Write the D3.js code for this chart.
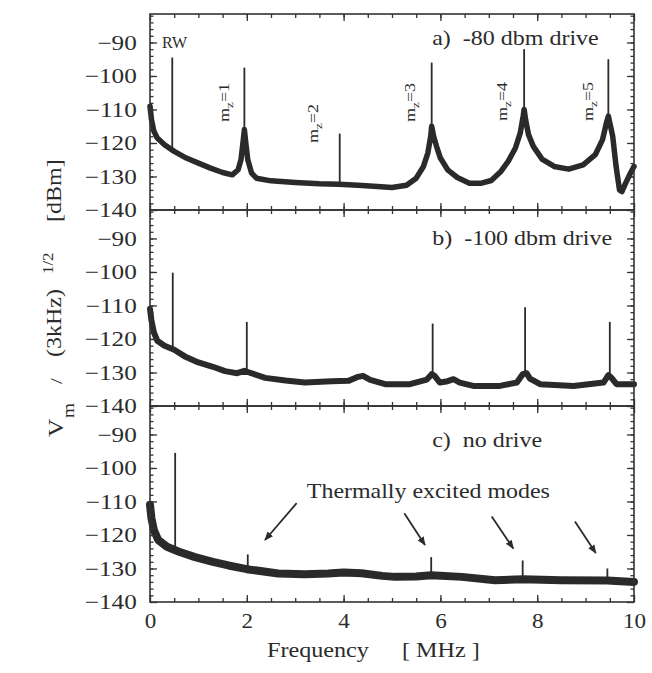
<!DOCTYPE html>
<html>
<head>
<meta charset="utf-8">
<script src="https://cdn.jsdelivr.net/npm/d3@7"></script>
<style>
  body { margin: 0; background: #fff; }
  svg text { font-family: "Liberation Serif", "Times New Roman", serif; fill: #2b2b2b; white-space: pre; }
</style>
</head>
<body>
<div id="wrapper"></div>
<script>
// values: [frequency MHz, level dBm]
const traceA = [
  [0, -109], [0.03, -113], [0.08, -116.5], [0.15, -118.5], [0.3, -120.5], [0.5, -122.5],
  [0.75, -124.5], [1.0, -126], [1.25, -127.5], [1.5, -128.8], [1.7, -129.5], [1.82, -128],
  [1.88, -125], [1.92, -120], [1.95, -116], [1.98, -120], [2.02, -125], [2.1, -129],
  [2.2, -130.5], [2.5, -131.3], [3.0, -131.8], [3.5, -132.2], [3.9, -132.3], [4.3, -132.6],
  [4.7, -133], [5.0, -133.3], [5.3, -132.6], [5.5, -130.5], [5.65, -127], [5.74, -123],
  [5.8, -118], [5.82, -115], [5.86, -118], [5.92, -121], [6.0, -124.5], [6.15, -128],
  [6.35, -130.3], [6.6, -132], [6.85, -132], [7.05, -131.2], [7.25, -128.5], [7.4, -125.5],
  [7.55, -121.5], [7.65, -117], [7.71, -112], [7.73, -110], [7.76, -113], [7.82, -117.5],
  [7.92, -121], [8.1, -124.8], [8.35, -127], [8.65, -127.8], [8.95, -126.5], [9.2, -123.5],
  [9.35, -119], [9.43, -114], [9.47, -112], [9.5, -114], [9.56, -118], [9.63, -127],
  [9.7, -134], [9.75, -134.5], [9.82, -132.2], [9.92, -129.2], [10, -127]
]
const traceB = [
  [0, -111], [0.03, -114.5], [0.08, -118], [0.15, -120.5], [0.3, -122], [0.5, -123.2],
  [0.72, -125.2], [1.0, -127], [1.3, -128.3], [1.55, -129.6], [1.8, -130.2], [1.95, -129.5],
  [2.05, -130], [2.38, -131.6], [2.8, -132.4], [3.2, -133], [3.75, -132.6], [4.1, -132.5],
  [4.3, -131.3], [4.4, -131], [4.55, -132.2], [4.86, -133.5], [5.37, -133.5], [5.72, -132.1],
  [5.82, -130.5], [5.88, -131], [5.99, -133], [6.15, -132.6], [6.27, -132], [6.4, -133],
  [6.68, -134], [7.23, -134], [7.58, -133], [7.7, -130.5], [7.78, -130.2], [7.85, -131.8],
  [8.06, -133.5], [8.75, -134], [9.37, -133], [9.47, -130.8], [9.53, -131.5], [9.64, -133.5],
  [10, -133.5]
]
const traceC = [
  [0, -111], [0.03, -115], [0.08, -118.5], [0.17, -121.5], [0.35, -123.5], [0.6, -125],
  [0.93, -126.6], [1.3, -128], [1.62, -129.1], [2.0, -130.2], [2.65, -131.5], [3.2, -131.7],
  [3.68, -131.5], [4.0, -131.2], [4.37, -131.4], [4.8, -132.2], [5.06, -132.5], [5.5, -132.4],
  [5.81, -132], [6.44, -132.5], [7.13, -133.5], [7.7, -133.2], [8.5, -133.5], [9.45, -133.6],
  [10, -134]
]

// narrow peaks: [frequency, base level, top level]
const spikesA = [[0.46, -122.8, -94.5], [1.95, -118, -97.5], [3.92, -132.3, -117.2],
  [5.82, -117, -96], [7.73, -112, -92], [9.47, -114, -95]]
const spikesB = [[0.47, -122.7, -100.2], [2.0, -129.6, -114.9], [5.84, -131, -115.4],
  [7.75, -130.2, -110.5], [9.5, -131, -114.9]]
const spikesC = [[0.52, -123.6, -95.5], [2.02, -130.2, -125.8], [5.81, -132, -126.6],
  [7.70, -133.2, -127.6], [9.45, -133.6, -130]]

const panelLabels = ["a)  -80 dbm drive", "b)  -100 dbm drive", "c)  no drive"]
const modeLabels = [1, 2, 3, 4, 5]
const modeLabelFreq = [1.63, 3.47, 5.475, 7.376, 9.153]
const modeLabelLevel = [-113.7, -120.0, -113.7, -113.4, -113.4]

// arrows in panel c: [tail f, tail dB, tip f, tip dB]
const arrowsC = [[3.03, -110.5, 2.376, -121.5], [5.254, -113.5, 5.682, -123.0],
  [7.06, -114.5, 7.506, -124.0], [8.78, -116.0, 9.21, -125.4]]

const xTickLabels = [0, 2, 4, 6, 8, 10]
const yTickLabels = [-140, -130, -120, -110, -100, -90]

drawSpectra()

function drawSpectra() {

  // 1. Chart dimensions
  const dimensions = {
    width: 652,
    height: 673,
    left: 150,
    right: 634,
    top: 14,
    panelHeight: 196,
  }
  const stretch = 1.2

  const wrapper = d3.select("#wrapper")
    .append("svg")
      .attr("width", dimensions.width)
      .attr("height", dimensions.height)

  wrapper.append("defs").append("marker")
      .attr("id", "head")
      .attr("viewBox", "0 0 10 10")
      .attr("refX", 9)
      .attr("refY", 5)
      .attr("markerWidth", 9)
      .attr("markerHeight", 9)
      .attr("markerUnits", "userSpaceOnUse")
      .attr("orient", "auto")
    .append("path")
      .attr("d", "M0,1 L10,5 L0,9 Z")
      .attr("fill", "#2b2b2b")

  // 2. Scales
  const xScale = d3.scaleLinear()
    .domain([0, 10])
    .range([dimensions.left, dimensions.right])

  const panels = [
    { trace: traceA, spikes: spikesA, band: 5.5 },
    { trace: traceB, spikes: spikesB, band: 6 },
    { trace: traceC, spikes: spikesC, band: 8 },
  ]

  const tickColor = "#333"

  panels.forEach((p, i) => {
    const top = dimensions.top + i * dimensions.panelHeight
    const bottom = top + dimensions.panelHeight
    const yScale = d3.scaleLinear()
      .domain([-140, -81.5])
      .range([bottom, top])
    p.yScale = yScale

    const bounds = wrapper.append("g")

    // 3. Data
    const lineGenerator = d3.line()
      .x(d => xScale(d[0]))
      .y(d => yScale(d[1]))

    bounds.append("path")
        .attr("d", lineGenerator(p.trace))
        .attr("fill", "none")
        .attr("stroke", "#2a2a2a")
        .attr("stroke-width", p.band)
        .attr("stroke-linejoin", "round")
        .attr("stroke-linecap", "round")

    bounds.selectAll(".spike")
      .data(p.spikes)
      .enter().append("line")
        .attr("x1", d => xScale(d[0]))
        .attr("x2", d => xScale(d[0]))
        .attr("y1", d => yScale(d[1]))
        .attr("y2", d => yScale(d[2]))
        .attr("stroke", "#2a2a2a")
        .attr("stroke-width", 1.8)

    // 4. Axes (ticks inward on all four sides)
    const clean = g => {
      g.select(".domain").remove()
      g.selectAll(".tick line").attr("stroke", tickColor).attr("stroke-width", 1.3)
    }

    bounds.append("g")
        .attr("transform", `translate(${dimensions.left},0)`)
        .call(d3.axisLeft(yScale).tickValues(yTickLabels).tickSize(-7).tickPadding(11))
        .call(clean)
        .call(g => g.selectAll("text")
          .attr("transform", `scale(${stretch},1)`)
          .attr("fill", "#2b2b2b")
          .style("font-size", "21px")
          .style("font-family", "Liberation Serif"))

    bounds.append("g")
        .attr("transform", `translate(${dimensions.left},0)`)
        .call(d3.axisLeft(yScale).tickValues(d3.range(-138, -81, 2)).tickSize(-3.5).tickFormat(""))
        .call(clean)

    bounds.append("g")
        .attr("transform", `translate(${dimensions.right},0)`)
        .call(d3.axisRight(yScale).tickValues(yTickLabels).tickSize(-7).tickFormat(""))
        .call(clean)

    bounds.append("g")
        .attr("transform", `translate(${dimensions.right},0)`)
        .call(d3.axisRight(yScale).tickValues(d3.range(-138, -81, 2)).tickSize(-3.5).tickFormat(""))
        .call(clean)

    bounds.append("g")
        .attr("transform", `translate(0,${top})`)
        .call(d3.axisTop(xScale).tickValues(xTickLabels).tickSize(-7).tickFormat(""))
        .call(clean)

    bounds.append("g")
        .attr("transform", `translate(0,${top})`)
        .call(d3.axisTop(xScale).tickValues(d3.range(0.5, 10, 0.5)).tickSize(-4).tickFormat(""))
        .call(clean)

    const bottomAxis = d3.axisBottom(xScale).tickValues(xTickLabels).tickSize(-7).tickPadding(11)
    if (i < 2) bottomAxis.tickFormat("")
    bounds.append("g")
        .attr("transform", `translate(0,${bottom})`)
        .call(bottomAxis)
        .call(clean)
        .call(g => g.selectAll("text")
          .attr("transform", "scale(1.1,1)")
          .attr("fill", "#2b2b2b")
          .style("font-size", "21px")
          .style("font-family", "Liberation Serif"))

    bounds.append("g")
        .attr("transform", `translate(0,${bottom})`)
        .call(d3.axisBottom(xScale).tickValues(d3.range(0.5, 10, 0.5)).tickSize(-4).tickFormat(""))
        .call(clean)

    bounds.append("rect")
        .attr("x", dimensions.left)
        .attr("y", top)
        .attr("width", dimensions.right - dimensions.left)
        .attr("height", dimensions.panelHeight)
        .attr("fill", "none")
        .attr("stroke", "#333")
        .attr("stroke-width", 1.6)

    // panel caption
    bounds.append("text")
        .attr("transform", `translate(${xScale(5.83)},${yScale([-90.8, -92.0, -93.7][i])}) scale(${stretch},1)`)
        .style("font-size", "20px")
        .text(panelLabels[i])
  })

  // 5. Annotations
  const yA = panels[0].yScale
  const yC = panels[2].yScale

  wrapper.append("text")
      .attr("transform", `translate(${xScale(0.25)},${yA(-91.6)})`)
      .style("font-size", "16px")
      .text("RW")

  const modes = wrapper.selectAll(".mode")
    .data(modeLabels)
    .enter().append("text")
      .attr("transform", (d, i) =>
        `translate(${xScale(modeLabelFreq[i])},${yA(modeLabelLevel[i])}) rotate(-90) scale(${stretch},1)`)
      .style("font-size", "15px")
  modes.append("tspan").text("m")
  modes.append("tspan").attr("dy", 4).style("font-size", "11px").text("z")
  modes.append("tspan").attr("dy", -4).text(d => "=" + d)

  wrapper.append("text")
      .attr("transform", `translate(${xScale(3.24)},${yC(-108.96)}) scale(1.14,1)`)
      .style("font-size", "21px")
      .text("Thermally excited modes")

  wrapper.selectAll(".arrow")
    .data(arrowsC)
    .enter().append("line")
      .attr("x1", d => xScale(d[0]))
      .attr("y1", d => yC(d[1]))
      .attr("x2", d => xScale(d[2]))
      .attr("y2", d => yC(d[3]))
      .attr("stroke", "#2b2b2b")
      .attr("stroke-width", 1.8)
      .attr("marker-end", "url(#head)")

  // 6. Axis titles
  wrapper.append("text")
      .attr("transform", `translate(267,657) scale(1.15,1)`)
      .style("font-size", "21px")
      .text("Frequency")
  wrapper.append("text")
      .attr("transform", `translate(402,657) scale(1.15,1)`)
      .style("font-size", "21px")
      .text("[ MHz ]")

  const yTitle = [
    { t: "V", x: 63, y: 437, s: 21 },
    { t: "m", x: 74, y: 418, s: 16 },
    { t: "/", x: 62, y: 384, s: 17 },
    { t: "(3kHz)", x: 61, y: 357, s: 20 },
    { t: "1/2", x: 53, y: 274, s: 14 },
    { t: "[dBm]", x: 61, y: 222, s: 20 },
  ]
  wrapper.selectAll(".ytitle")
    .data(yTitle)
    .enter().append("text")
      .attr("transform", d => `translate(${d.x},${d.y}) rotate(-90) scale(${stretch},1)`)
      .style("font-size", d => d.s + "px")
      .text(d => d.t)
}
</script>
</body>
</html>
